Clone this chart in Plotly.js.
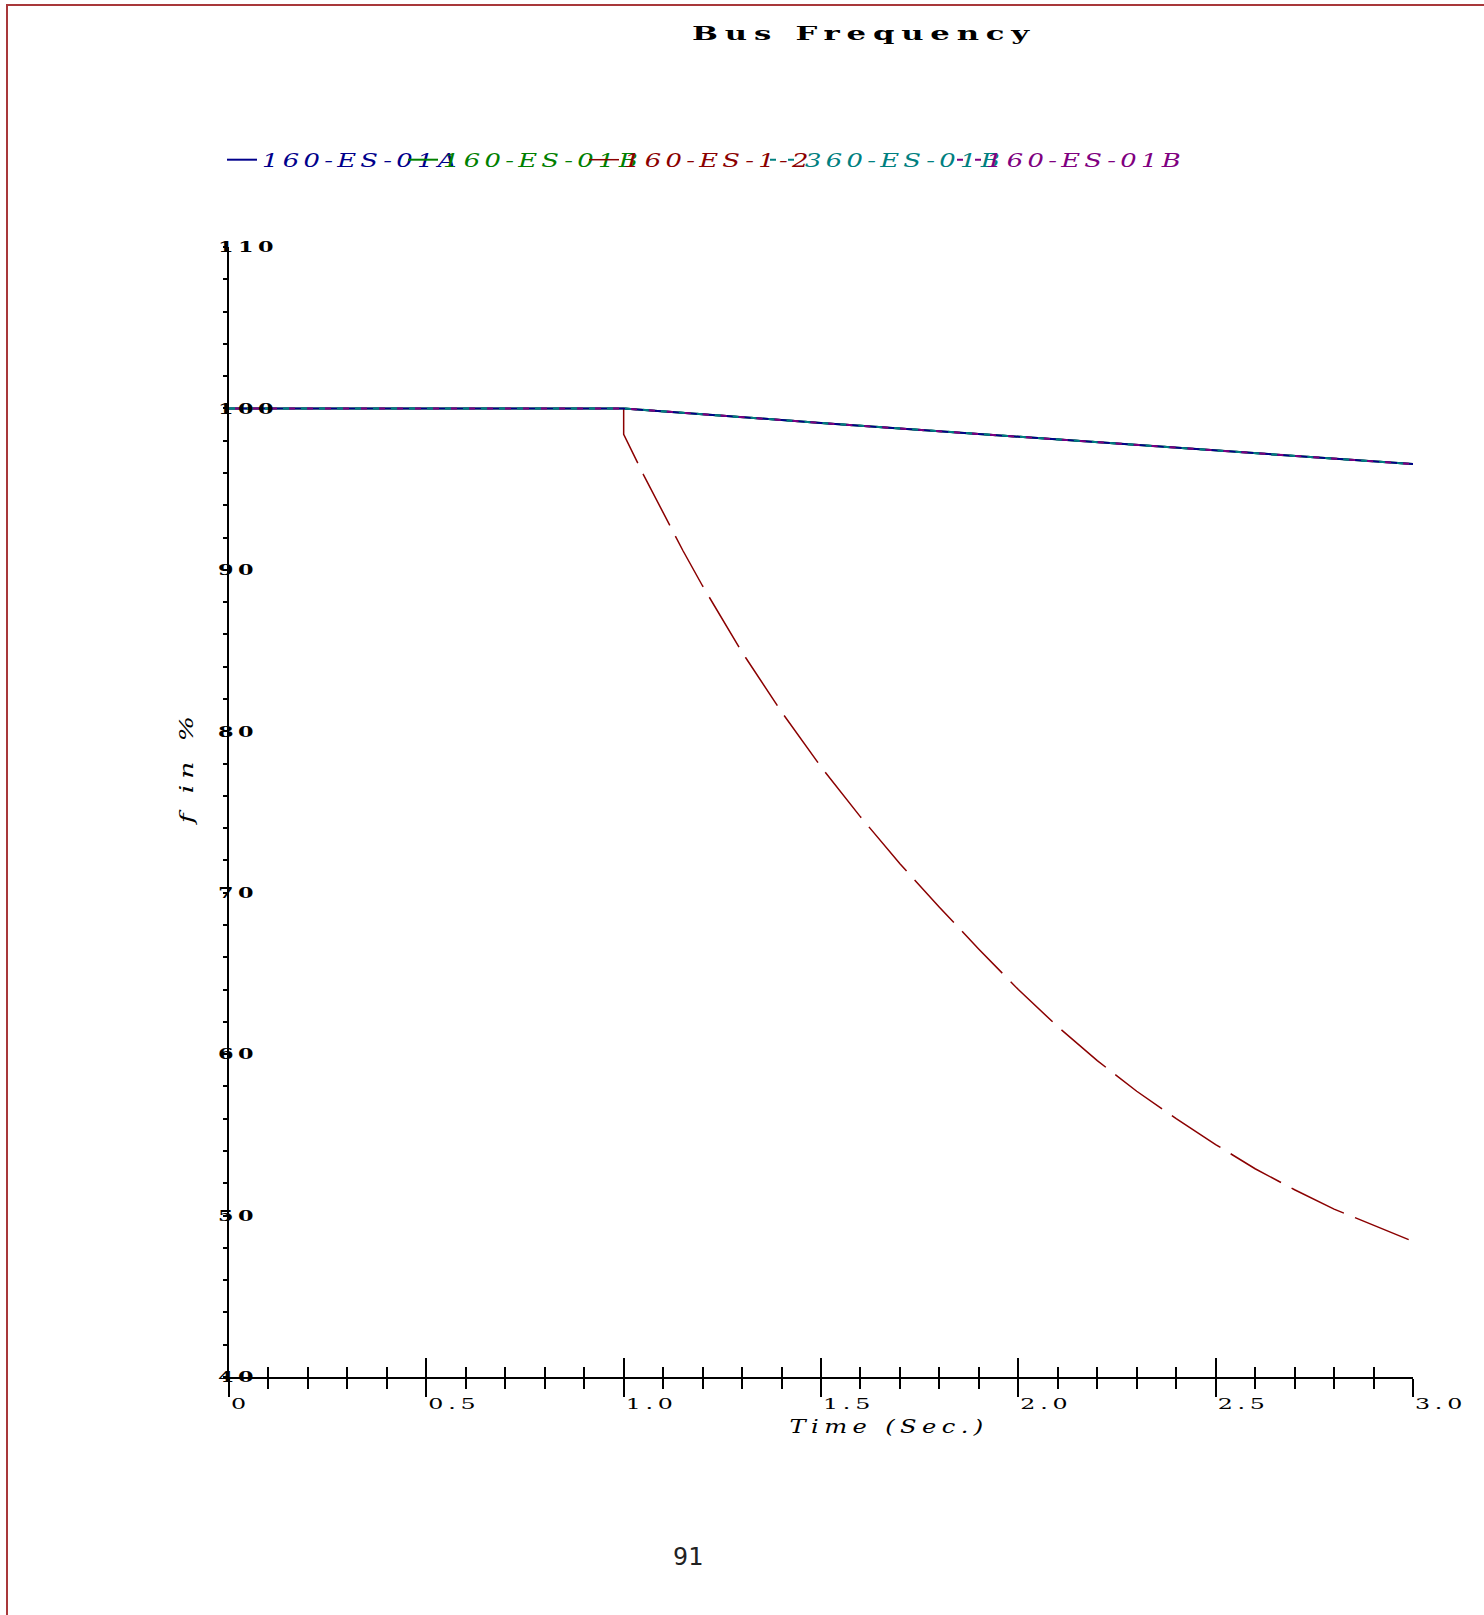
<!DOCTYPE html>
<html>
<head>
<meta charset="utf-8">
<script src="https://cdn.plot.ly/plotly-3.0.1.min.js"></script>
<style>
  html, body { margin: 0; padding: 0; background: #fff; }
  #page { position: relative; width: 1484px; height: 1615px; overflow: hidden; }
  #frame { position: absolute; left: 6px; top: 4px; right: -10px; bottom: -10px;
           border-top: 2px solid #a8383a; border-left: 2px solid #a8383a; pointer-events: none; }
  #chart { position: absolute; left: 0; top: 0; width: 1484px; height: 1615px; }
  .gtitle { letter-spacing: 4px; }
  .legendtext { letter-spacing: 3px; }
  .legend .scrollbox { clip-path: none !important; }
  .xtick text, .ytick text { letter-spacing: 3px; }
  .annotation[data-index="1"] text, .annotation[data-index="2"] text { letter-spacing: 4px; }
</style>
</head>
<body>
<div id="page">
  <div id="chart"></div>
  <div id="frame"></div>
</div>
<script>
// Bus frequency (% of nominal) after the disturbance at t = 1.0 s
const busNames = ['160-ES-01A', '160-ES-01B', '160-ES-1-2', '360-ES-01B', '160-ES-01B'];
const busColors = ['#00008b', '#008000', '#8b0000', '#008080', '#800080'];

// Buses that stay connected
const timeMain = [0, 1.0, 1.5, 2.0, 2.5, 3.0];
const freq160A = [100, 100, 99.1, 98.25, 97.4, 96.55];
const freq160B = [100, 100, 99.1, 98.25, 97.4, 96.55];
const freq360B = [100, 100, 99.1, 98.25, 97.4, 96.55];
const freq160B2 = [100, 100, 99.1, 98.25, 97.4, 96.55];

// Islanded bus 160-ES-1-2 (from the trip instant on)
const timeTrip = [1.0, 1.0, 1.05, 1.1, 1.15, 1.2, 1.3, 1.4, 1.5, 1.6, 1.7, 1.8, 1.9,
                  2.0, 2.1, 2.2, 2.3, 2.4, 2.5, 2.6, 2.7, 2.8, 2.9, 3.0];
const freqTrip = [100, 98.4, 95.9, 93.5, 91.2, 89.0, 84.9, 81.2, 77.8, 74.7, 71.8, 69.1, 66.5,
                  64.0, 61.7, 59.6, 57.7, 56.0, 54.4, 52.9, 51.6, 50.4, 49.4, 48.4];

const xTicks = [0, 0.5, 1.0, 1.5, 2.0, 2.5, 3.0];
const xTickLabels = ['0', '0.5', '1.0', '1.5', '2.0', '2.5', '3.0'];
const yTicks = [40, 50, 60, 70, 80, 90, 100, 110];
const yTickLabels = ['40', '50', '60', '70', '80', '90', '100', '110'];

// plot-area geometry (pixels) used to place the free-floating texts
const L = 229, R = 71, T = 247, B = 238, W = 1484, H = 1615;
const pw = W - L - R, ph = H - T - B;
const px = v => (v - L) / pw;
const py = v => (H - B - v) / ph;

const legendName = i => '<span style="color:' + busColors[i] + '">' + busNames[i] + '</span>';

const traces = [
  { x: timeMain, y: freq160B, name: legendName(1), legendrank: 2,
    mode: 'lines', line: { color: busColors[1], width: 2 } },
  { x: timeTrip, y: freqTrip, name: legendName(2), legendrank: 3,
    mode: 'lines', line: { color: busColors[2], width: 1.5, dash: '58px,12px' } },
  { x: timeMain, y: freq160A, name: legendName(0), legendrank: 1,
    mode: 'lines', line: { color: busColors[0], width: 2 } },
  { x: timeMain, y: freq360B, name: legendName(3), legendrank: 4,
    mode: 'lines', line: { color: busColors[3], width: 2, dash: '6px,12px' } },
  { x: timeMain, y: freq160B2, name: legendName(4), legendrank: 5, xaxis: 'x2',
    mode: 'lines', line: { color: busColors[4], width: 2, dash: '0px,6px,6px,6px' } }
];

const tickFont = { family: 'DejaVu Serif', size: 15, color: '#000' };
const italic = { family: 'DejaVu Serif', size: 18, style: 'italic', color: '#000' };

const layout = {
  width: W, height: H,
  margin: { l: L, r: R, t: T, b: B, pad: 0 },
  paper_bgcolor: 'rgba(0,0,0,0)', plot_bgcolor: 'rgba(0,0,0,0)',
  title: {
    text: 'Bus Frequency',
    font: { family: 'DejaVu Serif', size: 18, weight: 'bold', color: '#000' },
    xref: 'container', yref: 'container', x: 864 / W, y: 1 - 34 / H,
    xanchor: 'center', yanchor: 'middle'
  },
  showlegend: true,
  legend: {
    orientation: 'h', xref: 'container', yref: 'container',
    x: 222 / W, y: 1 - 160 / H, xanchor: 'left', yanchor: 'middle',
    entrywidth: 136, entrywidthmode: 'pixels', itemwidth: 30,
    font: { family: 'DejaVu Serif', size: 18, style: 'italic', color: '#000' },
    bgcolor: 'rgba(0,0,0,0)', borderwidth: 0
  },
  xaxis: {
    range: [0, 3], showgrid: false, zeroline: false,
    showline: true, linecolor: '#000', linewidth: 2,
    ticks: 'outside', ticklen: 18, tickwidth: 2, tickcolor: '#000',
    tickvals: xTicks, ticktext: xTickLabels,
    ticklabelposition: 'outside right', ticklabelstandoff: 12,
    tickfont: tickFont,
    minor: { ticks: 'outside', dtick: 0.1, tick0: 0, ticklen: 10, tickwidth: 2, tickcolor: '#000' }
  },
  xaxis2: {
    overlaying: 'x', anchor: 'y', side: 'bottom',
    range: [0, 3], showgrid: false, zeroline: false, showline: false,
    ticks: 'inside', ticklen: 19, tickwidth: 2, tickcolor: '#000',
    tickvals: xTicks, showticklabels: false,
    minor: { ticks: 'inside', dtick: 0.1, tick0: 0, ticklen: 10, tickwidth: 2, tickcolor: '#000' }
  },
  yaxis: {
    range: [40, 110], showgrid: false, zeroline: false,
    showline: true, linecolor: '#000', linewidth: 2,
    ticks: 'outside', ticklen: 4, tickwidth: 2, tickcolor: '#000',
    tickvals: yTicks, ticktext: yTickLabels,
    ticklabelposition: 'inside', ticklabelstandoff: -11, ticklabeloverflow: 'allow',
    tickfont: Object.assign({}, tickFont, { weight: 'bold' }),
    minor: { ticks: 'outside', dtick: 2, tick0: 40, ticklen: 4, tickwidth: 2, tickcolor: '#000' }
  },
  annotations: [
    { text: '91', xref: 'paper', yref: 'paper', x: px(688), y: py(1556),
      xanchor: 'center', yanchor: 'middle', showarrow: false,
      font: { family: 'DejaVu Sans Mono', size: 25, color: '#222' } },
    { text: 'Time (Sec.)', xref: 'paper', yref: 'paper', x: px(889), y: py(1426),
      xanchor: 'center', yanchor: 'middle', showarrow: false, font: italic },
    { text: 'f in %', xref: 'paper', yref: 'paper', x: px(186), y: py(768),
      xanchor: 'center', yanchor: 'middle', showarrow: false, textangle: -90, font: italic }
  ]
};

// The labels use a wide, stretched serif face: widen each text group so its
// widest member spans the given number of pixels.
function widen(selector, widest) {
  const nodes = Array.from(document.querySelectorAll(selector));
  const lens = nodes.map(n => n.getComputedTextLength());
  const k = widest / Math.max.apply(null, lens);
  nodes.forEach((n, i) => {
    n.setAttribute('lengthAdjust', 'spacingAndGlyphs');
    n.setAttribute('textLength', (lens[i] * k).toFixed(1));
  });
}

Plotly.newPlot('chart', traces, layout, { displayModeBar: false, staticPlot: true }).then(() => {
  widen('#chart .gtitle', 344);
  widen('#chart .legendtext', 199);
  widen('#chart .xtick text', 52);
  widen('#chart .ytick text', 60);
  widen('#chart .annotation[data-index="1"] text', 199);
  widen('#chart .annotation[data-index="2"] text', 113);
});
</script>
</body>
</html>
